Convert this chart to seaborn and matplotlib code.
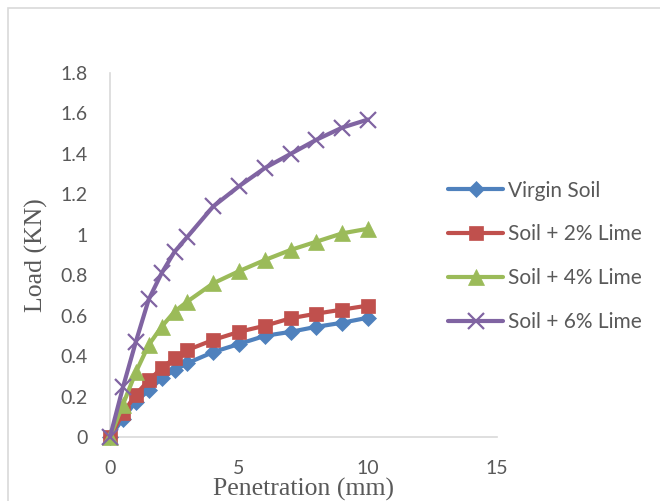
import matplotlib
matplotlib.use("Agg")
import matplotlib.pyplot as plt
import seaborn as sns
import pandas as pd
from matplotlib.patches import Rectangle

penetration = [0, 0.5, 1, 1.5, 2, 2.5, 3, 4, 5, 6, 7, 8, 9, 10]
virgin = [0, 0.09, 0.175, 0.23, 0.29, 0.33, 0.365, 0.42, 0.46, 0.50, 0.52, 0.545, 0.565, 0.59]
lime2 = [0, 0.117, 0.21, 0.28, 0.34, 0.39, 0.43, 0.48, 0.52, 0.55, 0.587, 0.61, 0.63, 0.65]
lime4 = [0, 0.16, 0.32, 0.455, 0.545, 0.62, 0.67, 0.76, 0.82, 0.875, 0.925, 0.966, 1.007, 1.03]
lime6 = [0, 0.245, 0.47, 0.68, 0.81, 0.916, 0.99, 1.14, 1.24, 1.33, 1.40, 1.47, 1.53, 1.57]
series_names = ["Virgin Soil", "Soil + 2% Lime", "Soil + 4% Lime", "Soil + 6% Lime"]
x_ticks = [0, 5, 10, 15]
y_ticks = [0, 0.2, 0.4, 0.6, 0.8, 1, 1.2, 1.4, 1.6, 1.8]
y_tick_labels = ["0", "0.2", "0.4", "0.6", "0.8", "1", "1.2", "1.4", "1.6", "1.8"]

frames = []
for name, vals in zip(series_names, [virgin, lime2, lime4, lime6]):
    frames.append(pd.DataFrame({"Penetration": penetration, "Load": vals, "Series": name}))
df = pd.concat(frames, ignore_index=True)

sns.set_style("white")
plt.rcParams['font.family'] = ['Lato', 'DejaVu Sans']

colors = ["#4F81BD", "#C0504D", "#9BBB59", "#8064A2"]
markers = ["D", "s", "^", "x"]
msizes = [8, 10.5, 11.5, 12]

fig = plt.figure(figsize=(6.6, 5.01), dpi=100)
ax = fig.add_axes([110/660, (501-437)/501, (497-110)/660, (437-73)/501])

for name, c, m, ms in zip(series_names, colors, markers, msizes):
    sub = df[df["Series"] == name]
    sns.lineplot(data=sub, x="Penetration", y="Load", ax=ax, color=c, marker=m,
                 markersize=ms, linewidth=3, markeredgecolor=c,
                 markeredgewidth=1.6 if m == "x" else 0.5, label=name, zorder=3,
                 clip_on=False)

ax.set_xlim(0, 15)
ax.set_ylim(0, 1.8)
ax.set_xticks(x_ticks)
ax.set_yticks(y_ticks)
ax.set_yticklabels(y_tick_labels)
ax.tick_params(axis='both', length=0, labelsize=14, labelcolor="#595959")
ax.tick_params(axis='y', pad=16)
ax.tick_params(axis='x', pad=16.5)
for s in ["top", "right"]:
    ax.spines[s].set_visible(False)
for s in ["left", "bottom"]:
    ax.spines[s].set_color("#D9D9D9")
    ax.spines[s].set_linewidth(1.2)
    ax.spines[s].set_zorder(1)
ax.set_xlabel("Penetration (mm)", family="Liberation Serif", fontsize=18.5, color="#595959", labelpad=1)
ax.set_ylabel("Load (KN)", family="Liberation Serif", fontsize=18.5, color="#595959", labelpad=9)

leg = ax.legend(loc="center left", bbox_to_anchor=((448-110)/387, 0.496), frameon=False,
                fontsize=15, handlelength=2.65, labelspacing=1.15, handletextpad=0.25,
                borderpad=0, borderaxespad=0)
for t in leg.get_texts():
    t.set_color("#595959")

fig.patches.append(Rectangle((8/660, -0.1), 1.2, (501-8)/501 + 0.1, transform=fig.transFigure,
                             fill=False, edgecolor="#D9D9D9", linewidth=1.2))

fig.savefig("out.png", dpi=100)
